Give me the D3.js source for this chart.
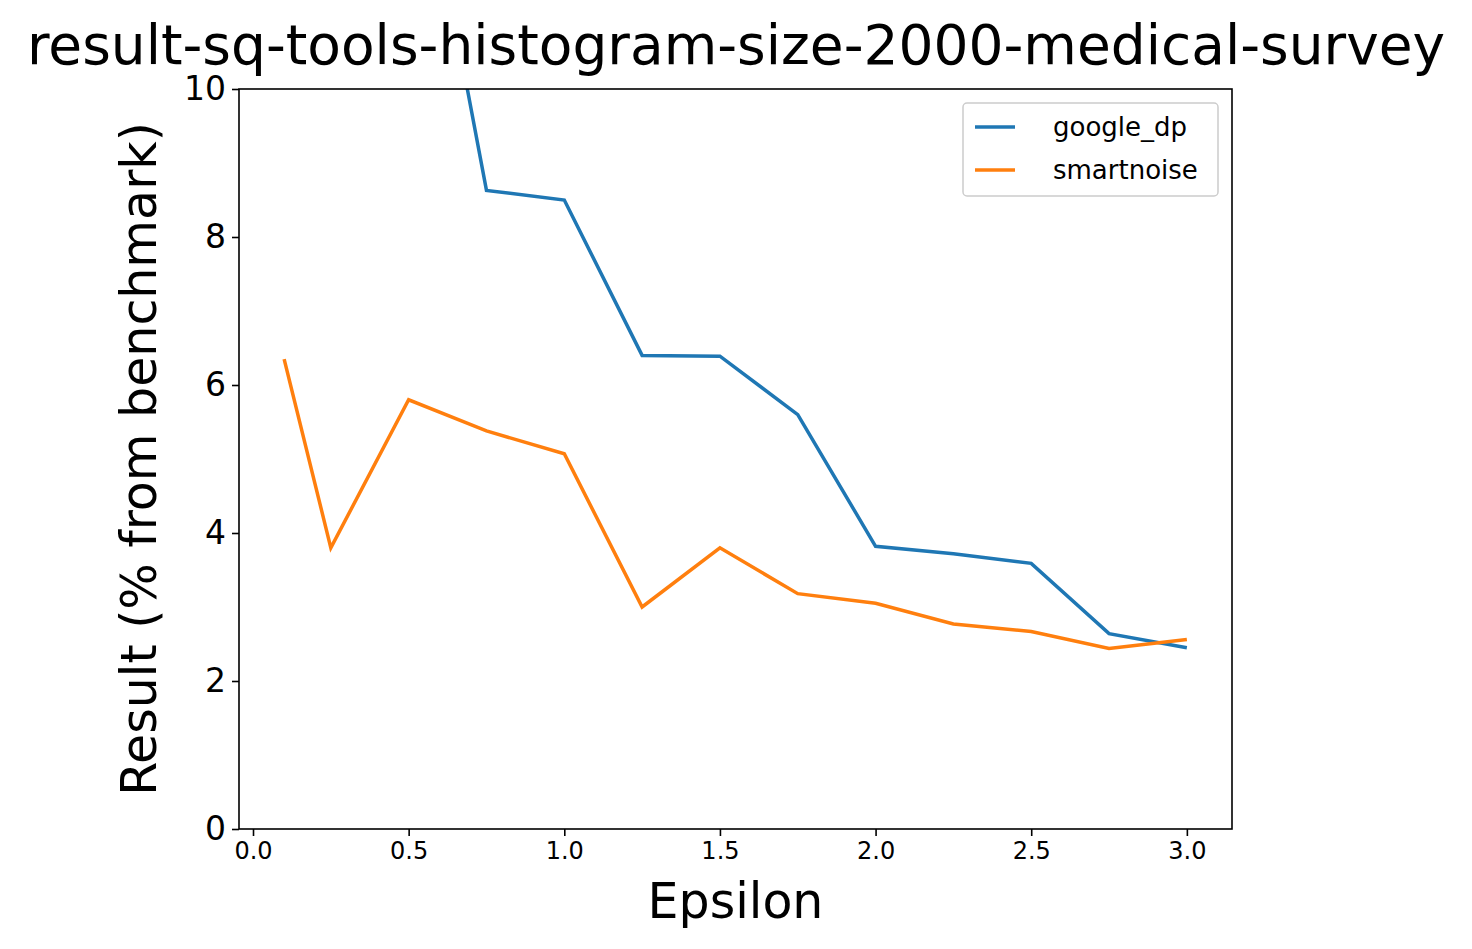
<!DOCTYPE html>
<html>
  <head>
    <meta charset="utf-8" />
    <script src="https://d3js.org/d3.v7.min.js"></script>
    <style>
      body { margin: 0; background: #fff; font-family: "DejaVu Sans", sans-serif; }
    </style>
  </head>
  <body>
    <svg id="canvas" width="1472" height="949"></svg>
    <script>
      // data
      var epsilons = [0.1, 0.25, 0.5, 0.75, 1.0, 1.25, 1.5, 1.75, 2.0, 2.25, 2.5, 2.75, 3.0];
      var googleDp = [20, 16, 14.2, 8.63, 8.5, 6.4, 6.39, 5.6, 3.82, 3.72, 3.59, 2.64, 2.45];
      var smartnoise = [6.35, 3.8, 5.8, 5.38, 5.07, 3.0, 3.8, 3.18, 3.05, 2.77, 2.67, 2.44, 2.56];
      var xTicks = [0.0, 0.5, 1.0, 1.5, 2.0, 2.5, 3.0];
      var yTicks = [0, 2, 4, 6, 8, 10];
      var seriesNames = ["google_dp", "smartnoise"];
      var seriesColors = ["#1f77b4", "#ff7f0e"];

      var canvas = d3.select("#canvas");
      var plotLeft = 239, plotRight = 1232, plotTop = 89, plotBottom = 829;

      var x = d3.scaleLinear().domain([-0.045, 3.145]).range([plotLeft, plotRight]);
      var y = d3.scaleLinear().domain([0, 10]).range([plotBottom, plotTop]);

      canvas.append("clipPath").attr("id", "clip")
        .append("rect").attr("x", plotLeft).attr("y", plotTop)
        .attr("width", plotRight - plotLeft).attr("height", plotBottom - plotTop);

      var line = d3.line()
        .x(function (d) { return x(d[0]); })
        .y(function (d) { return y(d[1]); });

      [googleDp, smartnoise].forEach(function (vals, i) {
        canvas.append("path")
          .datum(epsilons.map(function (e, j) { return [e, vals[j]]; }))
          .attr("d", line)
          .attr("clip-path", "url(#clip)")
          .attr("fill", "none")
          .attr("stroke", seriesColors[i])
          .attr("stroke-width", 3.5);
      });

      // axes
      var xAxis = canvas.append("g")
        .attr("transform", "translate(0," + plotBottom + ")")
        .call(d3.axisBottom(x).tickValues(xTicks).tickFormat(d3.format(".1f")).tickSizeOuter(0).tickSize(7).tickPadding(6));
      xAxis.selectAll("text").style("font-size", "24px").style("font-family", "DejaVu Sans").attr("fill", "#000");

      var yAxis = canvas.append("g")
        .attr("transform", "translate(" + plotLeft + ",0)")
        .call(d3.axisLeft(y).tickValues(yTicks).tickSizeOuter(0).tickSize(7).tickPadding(6));
      yAxis.selectAll("text").style("font-size", "33px").style("font-family", "DejaVu Sans").attr("fill", "#000");
      canvas.selectAll(".domain").remove();
      canvas.selectAll(".tick line").attr("stroke", "#000").attr("stroke-width", 1.6);

      canvas.append("rect")
        .attr("x", plotLeft).attr("y", plotTop)
        .attr("width", plotRight - plotLeft).attr("height", plotBottom - plotTop)
        .attr("fill", "none").attr("stroke", "#000").attr("stroke-width", 1.6);

      // titles
      canvas.append("text").text("result-sq-tools-histogram-size-2000-medical-survey")
        .attr("x", 736).attr("y", 64).attr("text-anchor", "middle")
        .style("font-size", "55px");
      canvas.append("text").text("Epsilon")
        .attr("x", (plotLeft + plotRight) / 2).attr("y", 918).attr("text-anchor", "middle")
        .style("font-size", "49px");
      canvas.append("text").text("Result (% from benchmark)")
        .attr("transform", "translate(156," + (plotTop + plotBottom) / 2 + ") rotate(-90)")
        .attr("text-anchor", "middle")
        .style("font-size", "49px");

      // legend
      var legend = canvas.append("g").attr("transform", "translate(963,103)");
      legend.append("rect").attr("width", 255).attr("height", 93).attr("rx", 4)
        .attr("fill", "#fff").attr("fill-opacity", 0.8).attr("stroke", "#ccc").attr("stroke-width", 1.5);
      seriesNames.forEach(function (name, i) {
        var g = legend.append("g").attr("transform", "translate(0," + (24 + i * 43) + ")");
        g.append("line").attr("x1", 12).attr("x2", 52).attr("y1", 0).attr("y2", 0)
          .attr("stroke", seriesColors[i]).attr("stroke-width", 3.5);
        g.append("text").text(name).attr("x", 90).attr("y", 9).style("font-size", "26px");
      });
    </script>
  </body>
</html>
